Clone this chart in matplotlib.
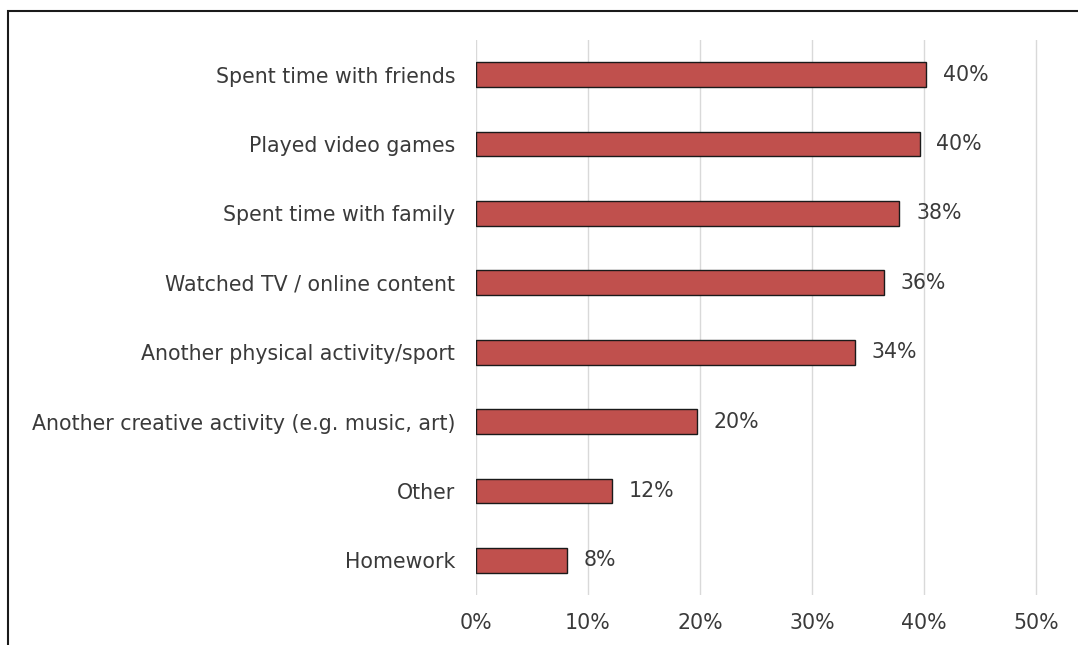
import matplotlib
matplotlib.use("Agg")
import matplotlib.pyplot as plt
from matplotlib.patches import Rectangle

categories = [
    "Spent time with friends",
    "Played video games",
    "Spent time with family",
    "Watched TV / online content",
    "Another physical activity/sport",
    "Another creative activity (e.g. music, art)",
    "Other",
    "Homework",
]
values = [40.2, 39.6, 37.8, 36.4, 33.8, 19.7, 12.1, 8.1]
xticks = [0, 10, 20, 30, 40, 50]

plt.rcParams['font.family'] = ['DejaVu Sans']
FS = 14.8
TXT = "#3a3a3a"

fig = plt.figure(figsize=(10.78, 6.45), dpi=100)
# 11.2 px per percentage point, axes run a little past 50% so its gridline shows
ax = fig.add_axes([476 / 1078, 1 - 595 / 645, 571.2 / 1078, 555 / 645])

ypos = list(range(len(categories)))[::-1]
ax.barh(ypos, values, height=0.355, color="#C0504D", edgecolor="#1a1a1a", linewidth=1.0, zorder=3)

for y, v in zip(ypos, values):
    ax.text(v + 1.5, y, f"{v:.0f}%", va="center", ha="left", fontsize=FS, color=TXT)

ax.set_xlim(0, 51)
ax.set_ylim(-0.5, len(categories) - 0.5)
ax.set_xticks(xticks)
ax.set_xticklabels([f"{t}%" for t in xticks])
ax.set_yticks(ypos)
ax.set_yticklabels(categories)
ax.tick_params(axis="both", length=0, labelsize=FS, labelcolor=TXT)
ax.tick_params(axis="y", pad=15)
ax.tick_params(axis="x", pad=13)
ax.xaxis.grid(True, color="#d9d9d9", linewidth=1.0, zorder=0)
ax.set_axisbelow(True)
for s in ax.spines.values():
    s.set_visible(False)

# outer frame, cut off at the right and bottom edges
fig.patches.append(Rectangle((8 / 1078, -0.2), 1.5, 1 - 11 / 645 + 0.2,
                             transform=fig.transFigure, fill=False,
                             edgecolor="#1a1a1a", linewidth=1.5))

fig.savefig("out.png", dpi=100)
